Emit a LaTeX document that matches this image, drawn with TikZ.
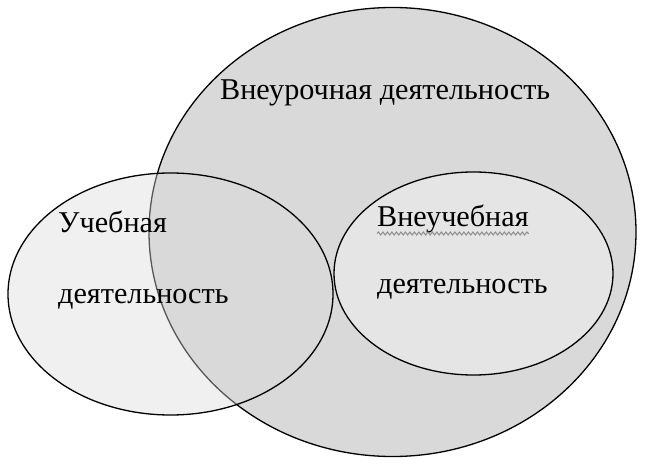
\documentclass[tikz,border=0pt]{standalone}
\usepackage{fontspec}
\setmainfont{Liberation Serif}
\usetikzlibrary{decorations.pathmorphing}

\begin{document}
\begin{tikzpicture}[x=1bp,y=-1bp,
  set/.style={draw=black, line width=1.3bp},
  lbl/.style={anchor=base west, inner sep=0pt, font=\fontsize{30.3}{34}\selectfont},
  squiggle/.style={draw=gray!90, line width=1bp, decorate,
    decoration={snake, amplitude=1.5bp, segment length=4.5bp}},
  ]
  \useasboundingbox[fill=white] (0,0) rectangle (652,466);
  \coordinate (O) at (392.5,232);
  \coordinate (L) at (170.5,294);
  \coordinate (R) at (473.5,273.5);
  \draw[set, fill=gray!30] (O) ellipse [x radius=243.5, y radius=224.5];
  \draw[set, fill=gray!28, fill opacity=0.4] (L) ellipse [x radius=162.5, y radius=121];
  \draw[set, fill=gray!20] (R) ellipse [x radius=139.5, y radius=101.5];
  \node[lbl] (out) at (220,100) {Внеурочная деятельность};
  \node[lbl] (study1) at (58,233) {Учебная};
  \node[lbl] (study2) at (58,304) {деятельность};
  \node[lbl] (extra1) at (377,227) {Внеучебная};
  \node[lbl] (extra2) at (377,294) {деятельность};
  \draw[squiggle] ([yshift=-6.5bp]extra1.base west) -- ([yshift=-6.5bp]extra1.base east);
\end{tikzpicture}
\end{document}
